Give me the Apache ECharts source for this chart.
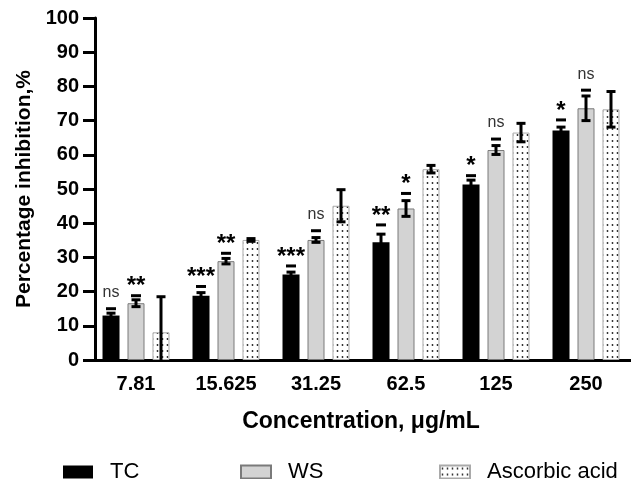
<!DOCTYPE html>
<html>
<head>
<meta charset="utf-8">
<script src="https://cdn.jsdelivr.net/npm/echarts@6/dist/echarts.min.js"></script>
<style>
html, body { margin: 0; background: #fff; }
#chart { width: 631px; height: 479px; }
</style>
</head>
<body>
<div id="chart"></div>
<script>
// concentrations (µg/mL)
var concentrations = ['7.81', '15.625', '31.25', '62.5', '125', '250'];

// mean % inhibition and error
var tcMean = [13.0, 18.8, 25.0, 34.4, 51.3, 67.1];
var tcErr  = [0.7, 0.9, 0.7, 2.4, 1.3, 1.0];
var wsMean = [16.6, 28.9, 35.1, 44.3, 61.4, 73.6];
var wsErr  = [1.0, 0.8, 0.7, 2.3, 1.3, 3.6];
var aaMean = [8.1, 35.1, 45.1, 55.8, 66.5, 73.3];
var aaErr  = [10.4, 0.4, 4.7, 1.1, 2.7, 5.2];

// significance marks: height of the little dash and the label above it
var tcMarkY = [15.0, 21.5, 27.5, 39.5, 53.9, 70.2];
var wsMarkY = [18.8, 31.2, 37.8, 48.7, 64.6, 78.9];
var tcSig = ['ns', '***', '***', '**', '*', '*'];
var wsSig = ['**', '**', 'ns', '*', 'ns', 'ns'];

var FONT = '"Liberation Sans", Arial, sans-serif';
var BAR_W = 17;
var STEP = 25;   // bar centre to bar centre

// dotted fill for ascorbic acid
var dots = document.createElement('canvas');
dots.width = 5;
dots.height = 6;
var dctx = dots.getContext('2d');
dctx.fillStyle = '#fff';
dctx.fillRect(0, 0, 5, 6);
dctx.fillStyle = '#222';
dctx.beginPath();
dctx.arc(2.5, 3, 0.9, 0, Math.PI * 2);
dctx.fill();

function pairs(means, errs) {
  return means.map(function (m, i) { return [i, m, errs[i]]; });
}

function errorBars(offset) {
  return function (params, api) {
    var i = api.value(0), m = api.value(1), e = api.value(2);
    var top = api.coord([i, m + e]);
    var lowVal = m - e;
    var bot = api.coord([i, Math.max(0, lowVal)]);
    var x = top[0] + offset;
    var kids = [
      { type: 'line', shape: { x1: x, y1: top[1], x2: x, y2: bot[1] }, style: { stroke: '#000', lineWidth: 3 } },
      { type: 'line', shape: { x1: x - 4.5, y1: top[1], x2: x + 4.5, y2: top[1] }, style: { stroke: '#000', lineWidth: 3 } }
    ];
    if (lowVal > 0) {
      kids.push({ type: 'line', shape: { x1: x - 4.5, y1: bot[1], x2: x + 4.5, y2: bot[1] }, style: { stroke: '#000', lineWidth: 3 } });
    }
    return { type: 'group', children: kids };
  };
}

function sigMarks(offset, labels) {
  return function (params, api) {
    var p = api.coord([api.value(0), api.value(1)]);
    var x = p[0] + offset;
    var lab = labels[params.dataIndex];
    var isNs = lab === 'ns';
    return {
      type: 'group',
      children: [
        { type: 'rect', shape: { x: x - 5, y: p[1] - 1.5, width: 10, height: 3 }, style: { fill: '#000' } },
        {
          type: 'text',
          style: {
            text: lab, x: x, y: p[1] - (isNs ? 16 : 9),
            align: 'center', verticalAlign: 'middle',
            font: isNs ? ('16px ' + FONT) : ('bold 24px ' + FONT),
            fill: isNs ? '#333' : '#000'
          }
        }
      ]
    };
  };
}

var chart = echarts.init(document.getElementById('chart'));

var legendBase = {
  top: 461,
  padding: 0,
  itemWidth: 30,
  itemHeight: 13,
  icon: 'rect',
  textStyle: { fontFamily: FONT, fontSize: 22, color: '#000', padding: [0, 0, 0, 12] }
};

chart.setOption({
  backgroundColor: '#fff',
  animation: false,
  grid: { left: 91, top: 18, width: 549, height: 342 },
  legend: [
    Object.assign({ data: ['TC'], left: 63 }, legendBase),
    Object.assign({ data: ['WS'], left: 240 }, legendBase),
    Object.assign({ data: ['Ascorbic acid'], left: 439 }, legendBase)
  ],
  xAxis: {
    type: 'category',
    data: concentrations,
    name: 'Concentration, μg/mL',
    nameLocation: 'middle',
    nameGap: 50,
    nameTextStyle: { fontFamily: FONT, fontSize: 23, fontWeight: 'bold', color: '#000' },
    axisLine: { lineStyle: { color: '#000', width: 3 } },
    axisTick: { alignWithLabel: true, length: 10, lineStyle: { color: '#000', width: 3 } },
    axisLabel: { fontFamily: FONT, fontSize: 20, fontWeight: 'bold', color: '#000', margin: 14 }
  },
  yAxis: {
    type: 'value',
    min: 0,
    max: 100,
    interval: 10,
    offset: -4,
    name: 'Percentage inhibition,%',
    nameLocation: 'middle',
    nameGap: 60,
    nameTextStyle: { fontFamily: FONT, fontSize: 21, fontWeight: 'bold', color: '#000' },
    axisLine: { show: true, lineStyle: { color: '#000', width: 3 } },
    axisTick: { show: true, length: 12, lineStyle: { color: '#000', width: 3 } },
    axisLabel: { fontFamily: FONT, fontSize: 20, fontWeight: 'bold', color: '#000', margin: 16 },
    splitLine: { show: false }
  },
  series: [
    {
      name: 'TC', type: 'bar', barWidth: BAR_W, barGap: '47%',
      itemStyle: { color: '#000' },
      data: tcMean
    },
    {
      name: 'WS', type: 'bar', barWidth: BAR_W, barGap: '47%',
      itemStyle: { color: '#d3d3d3', borderColor: '#7a7a7a', borderWidth: 1 },
      data: wsMean
    },
    {
      name: 'Ascorbic acid', type: 'bar', barWidth: BAR_W, barGap: '47%',
      itemStyle: { color: { image: dots, repeat: 'repeat' }, borderColor: '#aaa', borderWidth: 1 },
      data: aaMean
    },
    { type: 'custom', z: 5, renderItem: errorBars(-STEP), data: pairs(tcMean, tcErr) },
    { type: 'custom', z: 5, renderItem: errorBars(0), data: pairs(wsMean, wsErr) },
    { type: 'custom', z: 5, renderItem: errorBars(STEP), data: pairs(aaMean, aaErr) },
    { type: 'custom', z: 5, renderItem: sigMarks(-STEP, tcSig), data: tcMarkY.map(function (v, i) { return [i, v]; }) },
    { type: 'custom', z: 5, renderItem: sigMarks(0, wsSig), data: wsMarkY.map(function (v, i) { return [i, v]; }) }
  ]
});
</script>
</body>
</html>
